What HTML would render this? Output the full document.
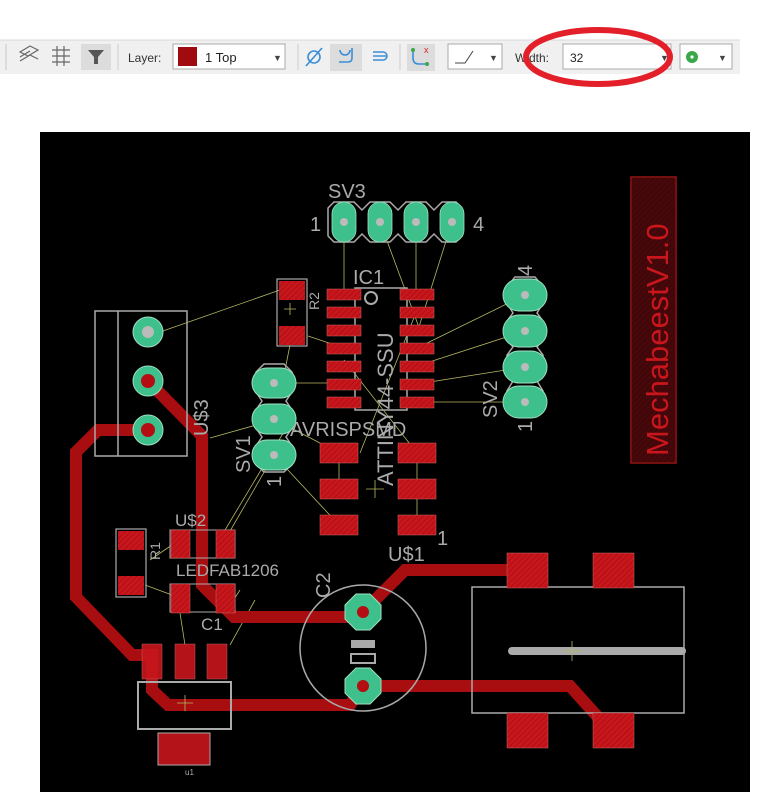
<!DOCTYPE html>
<html><head><meta charset="utf-8"><style>
html,body{margin:0;padding:0;background:#fff;}
body{width:768px;height:792px;overflow:hidden;font-family:"Liberation Sans",sans-serif;}
</style></head><body>
<svg width="768" height="792" viewBox="0 0 768 792" xmlns="http://www.w3.org/2000/svg" font-family="Liberation Sans, sans-serif">
<defs>
<pattern id="h" width="4" height="4" patternUnits="userSpaceOnUse" patternTransform="rotate(45)">
<rect width="4" height="4" fill="#c8161c"/><line x1="0" y1="0" x2="0" y2="4" stroke="#9a0c10" stroke-width="1.2"/>
</pattern>
</defs>
<rect width="768" height="792" fill="#fff"/>
<!-- toolbar -->
<rect x="0" y="40" width="740" height="34" fill="#f0f0f0"/>
<line x1="0" y1="40" x2="740" y2="40" stroke="#d8d8d8"/>
<line x1="6" y1="44" x2="6" y2="70" stroke="#c8c8c8"/>
<g stroke="#666" fill="none" stroke-width="1.2">
<path d="M20 52 l10 -6 l8 4 l-10 6 z M20 57 l10 -6 M20 61 l10 -6 l8 4"/>
<path d="M52 50 h18 M52 56 h18 M52 62 h18 M57 46 v20 M64 46 v20"/>
</g>
<rect x="81" y="44" width="30" height="26" fill="#dcdcdc"/>
<path d="M88 50 h16 l-6 7 v7 h-4 v-7 z" fill="#555"/>
<line x1="118" y1="44" x2="118" y2="70" stroke="#ccc"/>
<text x="128" y="62" font-size="12" fill="#333">Layer:</text>
<rect x="173" y="44" width="112" height="25" fill="#fff" stroke="#aaa"/>
<rect x="178" y="47" width="19" height="19" fill="#a00b10"/>
<text x="205" y="62" font-size="13" fill="#222">1 Top</text>
<text x="273" y="61" font-size="9" fill="#444">▼</text>
<line x1="298" y1="44" x2="298" y2="70" stroke="#ccc"/>
<g stroke="#3a8ed8" fill="none" stroke-width="1.6">
<circle cx="314" cy="57" r="6"/><line x1="306" y1="66" x2="322" y2="48"/>
</g>
<rect x="330" y="44" width="32" height="27" fill="#dcdcdc"/>
<path d="M340 50 a5 5 0 1 0 10 0 M352 48 v10 q0 4 -4 4 h-9" stroke="#3a8ed8" fill="none" stroke-width="1.6"/>
<path d="M373 52 h10 a4 4 0 0 1 0 8 h-10 M373 56 h14" stroke="#3a8ed8" fill="none" stroke-width="1.5"/>
<line x1="400" y1="44" x2="400" y2="70" stroke="#ccc"/>
<rect x="407" y="44" width="28" height="27" fill="#dcdcdc"/>
<path d="M413 50 v8 q0 6 6 6 h6" stroke="#3a8ed8" fill="none" stroke-width="1.6"/>
<circle cx="413" cy="50" r="2" fill="#3aa84a"/><circle cx="427" cy="64" r="2" fill="#3aa84a"/>
<text x="424" y="53" font-size="9" fill="#d22">x</text>
<rect x="448" y="44" width="54" height="25" fill="#fff" stroke="#aaa"/>
<path d="M455 63 h10 l8 -12" stroke="#444" fill="none"/>
<text x="489" y="61" font-size="9" fill="#444">▼</text>
<text x="515" y="62" font-size="12" fill="#333">Width:</text>
<rect x="563" y="44" width="108" height="25" fill="#fff" stroke="#aaa"/>
<text x="570" y="62" font-size="12" fill="#222">32</text>
<text x="660" y="61" font-size="9" fill="#444">▼</text>
<rect x="680" y="44" width="52" height="25" fill="#fff" stroke="#aaa"/>
<circle cx="692" cy="57" r="6" fill="#3aa84a"/><circle cx="692" cy="57" r="1.6" fill="#fff"/>
<text x="718" y="61" font-size="9" fill="#444">▼</text>
<ellipse cx="598" cy="57" rx="72" ry="27" fill="none" stroke="#e3202a" stroke-width="6"/>

<!-- board -->
<rect x="40" y="132" width="710" height="660" fill="#000"/>

<!-- air wires -->
<g stroke="#b8b860" stroke-width="0.8" fill="none">
<path d="M344 222 V294 M416 222 V294 M380 222 L420 330 M452 222 L418 330 M160 332 L280 290 M308 336 L344 348 M417 348 L525 295 M417 366 L525 331 M417 384 L525 367 M417 402 L525 402 M274 383 H344 M290 345 L285 370 M274 419 L339 453 M210 438 L274 420 M274 455 L339 525 M274 455 L222 545 M344 360 L417 453 M417 310 L360 453 M339 462 V489 M417 462 V525 M225 530 L285 430 M150 560 L172 545 M145 585 L172 595 M180 613 L185 645 M225 613 L240 590 M230 645 L255 600"/>
</g>

<!-- traces -->
<g stroke="#a80d10" stroke-width="12" fill="none" stroke-linejoin="miter">
<path d="M148 381 L202 436 V585 L234 617 H363"/>
<path d="M148 430 H98 L76 452 V597 L132 655 H152 V690 L168 705 H350 L363 686"/>
<path d="M363 612 L405 570 H527"/>
<path d="M363 686 H570 L605 725"/>
</g>

<!-- SV3 -->
<path d="M328 208 l6 -6 h20 l8 8 l8 -8 h20 l8 8 l8 -8 h20 l8 8 l8 -8 h14 l6 6 v28 l-6 6 h-14 l-8 -8 l-8 8 h-20 l-8 -8 l-8 8 h-20 l-8 -8 l-8 8 h-20 l-6 -6 z" fill="none" stroke="#aaa" stroke-width="1.5"/>
<g fill="#3dc08c" stroke="#9ee0c0" stroke-width="0.8">
<rect x="332" y="202" width="24" height="40" rx="12"/><rect x="368" y="202" width="24" height="40" rx="12"/><rect x="404" y="202" width="24" height="40" rx="12"/><rect x="440" y="202" width="24" height="40" rx="12"/>
</g>
<g fill="#bbb"><circle cx="344" cy="222" r="4"/><circle cx="380" cy="222" r="4"/><circle cx="416" cy="222" r="4"/><circle cx="452" cy="222" r="4"/></g>
<g fill="#aaa" font-size="20"><text x="328" y="198">SV3</text><text x="310" y="231">1</text><text x="473" y="231">4</text></g>

<!-- IC1 -->
<rect x="355" y="288" width="52" height="122" fill="none" stroke="#aaa" stroke-width="1.5"/>
<g fill="url(#h)" stroke="#c66" stroke-width="0.5">
<rect x="327" y="289" width="34" height="11"/><rect x="327" y="307" width="34" height="11"/><rect x="327" y="325" width="34" height="11"/><rect x="327" y="343" width="34" height="11"/><rect x="327" y="361" width="34" height="11"/><rect x="327" y="379" width="34" height="11"/><rect x="327" y="397" width="34" height="11"/>
<rect x="400" y="289" width="34" height="11"/><rect x="400" y="307" width="34" height="11"/><rect x="400" y="325" width="34" height="11"/><rect x="400" y="343" width="34" height="11"/><rect x="400" y="361" width="34" height="11"/><rect x="400" y="379" width="34" height="11"/><rect x="400" y="397" width="34" height="11"/>
</g>
<text x="353" y="284" font-size="20" fill="#aaa">IC1</text>
<text transform="translate(393,486) rotate(-90)" font-size="22" fill="#aaa">ATTINY44-SSU</text>
<circle cx="371" cy="298" r="6" fill="none" stroke="#aaa" stroke-width="2"/>

<!-- R2 -->
<rect x="277" y="279" width="30" height="67" fill="none" stroke="#aaa" stroke-width="1.2"/>
<rect x="279" y="281" width="26" height="19" fill="url(#h)"/><rect x="279" y="326" width="26" height="19" fill="url(#h)"/>
<text transform="translate(319,310) rotate(-90)" font-size="14" fill="#aaa">R2</text>

<!-- U$3 -->
<rect x="95" y="311" width="92" height="145" fill="none" stroke="#aaa" stroke-width="1.5"/>
<line x1="118" y1="311" x2="118" y2="456" stroke="#aaa" stroke-width="1.5"/>
<g fill="#3dc08c" stroke="#9ee0c0"><circle cx="148" cy="332" r="15"/><circle cx="148" cy="381" r="15"/><circle cx="148" cy="430" r="15"/></g>
<circle cx="148" cy="332" r="6" fill="#bbb"/><circle cx="148" cy="381" r="7" fill="#b40d12"/><circle cx="148" cy="430" r="7" fill="#b40d12"/>
<text transform="translate(208,436) rotate(-90)" font-size="20" fill="#aaa">U$3</text>

<!-- SV1 -->
<path d="M264 364 h20 l8 8 v20 l-6 9 l6 9 v18 l-6 9 l6 9 v18 l-8 8 h-20 l-8 -8 v-18 l6 -9 l-6 -9 v-18 l6 -9 l-6 -9 v-20 z" fill="none" stroke="#aaa" stroke-width="1.5"/>
<g fill="#3dc08c" stroke="#9ee0c0"><rect x="252" y="368" width="44" height="30" rx="15"/><rect x="252" y="404" width="44" height="30" rx="15"/><rect x="252" y="440" width="44" height="30" rx="15"/></g>
<g fill="#bbb"><circle cx="274" cy="383" r="4"/><circle cx="274" cy="419" r="4"/><circle cx="274" cy="455" r="4"/></g>
<text transform="translate(250,473) rotate(-90)" font-size="20" fill="#aaa">SV1</text>
<text transform="translate(281,487) rotate(-90)" font-size="20" fill="#aaa">1</text>
<text x="290" y="436" font-size="20" fill="#aaa">AVRISPSMD</text>

<!-- AVRISP pads -->
<g fill="url(#h)" stroke="#c66" stroke-width="0.5">
<rect x="320" y="443" width="38" height="20"/><rect x="320" y="479" width="38" height="20"/><rect x="320" y="515" width="38" height="20"/>
<rect x="398" y="443" width="38" height="20"/><rect x="398" y="479" width="38" height="20"/><rect x="398" y="515" width="38" height="20"/>
</g>
<text x="437" y="545" font-size="20" fill="#aaa">1</text>
<text x="388" y="561" font-size="20" fill="#aaa">U$1</text>

<!-- SV2 -->
<path d="M515 277 h20 l8 10 v16 l-6 10 l6 8 v18 l-6 8 l6 8 v18 l-6 8 l6 10 v14 l-8 8 h-20 l-8 -8 v-14 l6 -10 l-6 -8 v-18 l6 -8 l-6 -8 v-18 l6 -8 l-6 -10 v-16 z" fill="none" stroke="#aaa" stroke-width="1.5"/>
<g fill="#3dc08c" stroke="#9ee0c0"><rect x="503" y="279" width="44" height="32" rx="16"/><rect x="503" y="315" width="44" height="32" rx="16"/><rect x="503" y="351" width="44" height="32" rx="16"/><rect x="503" y="386" width="44" height="32" rx="16"/></g>
<g fill="#bbb"><circle cx="525" cy="295" r="4"/><circle cx="525" cy="331" r="4"/><circle cx="525" cy="367" r="4"/><circle cx="525" cy="402" r="4"/></g>
<text transform="translate(497,418) rotate(-90)" font-size="20" fill="#aaa">SV2</text>
<text transform="translate(532,432) rotate(-90)" font-size="20" fill="#aaa">1</text>
<text transform="translate(532,276) rotate(-90)" font-size="20" fill="#aaa">4</text>

<!-- label block -->
<rect x="631" y="177" width="45" height="286" fill="none" stroke="#c0191c" stroke-width="1.2"/>
<rect x="632" y="178" width="43" height="284" fill="url(#h)" opacity="0.35"/>
<text transform="translate(668,456) rotate(-90)" font-size="31" fill="#c8161c">MechabeestV1.0</text>

<!-- R1 -->
<rect x="116" y="529" width="30" height="68" fill="none" stroke="#aaa" stroke-width="1.2"/>
<rect x="118" y="531" width="26" height="19" fill="url(#h)"/><rect x="118" y="576" width="26" height="19" fill="url(#h)"/>
<text transform="translate(160,560) rotate(-90)" font-size="14" fill="#aaa">R1</text>

<!-- U$2 / C1 -->
<rect x="170" y="530" width="65" height="28" fill="none" stroke="#aaa"/>
<rect x="170" y="584" width="65" height="28" fill="none" stroke="#aaa"/>
<g fill="url(#h)" stroke="#c66" stroke-width="0.5"><rect x="171" y="530" width="19" height="28"/><rect x="216" y="530" width="19" height="28"/><rect x="171" y="584" width="19" height="29"/><rect x="216" y="584" width="19" height="29"/></g>
<text x="175" y="526" font-size="17" fill="#aaa">U$2</text>
<text x="176" y="576" font-size="17" fill="#aaa">LEDFAB1206</text>
<text x="201" y="630" font-size="17" fill="#aaa">C1</text>

<!-- regulator -->
<rect x="138" y="682" width="93" height="47" fill="none" stroke="#aaa" stroke-width="2"/>
<g fill="#c8161c" opacity="0.9" stroke="#c66" stroke-width="0.5"><rect x="142" y="644" width="20" height="35"/><rect x="175" y="644" width="20" height="35"/><rect x="207" y="644" width="20" height="35"/><rect x="158" y="733" width="52" height="32"/></g>
<rect x="158" y="733" width="52" height="32" fill="none" stroke="#aaa"/>
<text x="185" y="775" font-size="8" fill="#aaa">u1</text>

<!-- C2 -->
<circle cx="363" cy="648" r="63" fill="none" stroke="#aaa" stroke-width="1.5"/>
<rect x="351" y="640" width="24" height="8" fill="#aaa"/><rect x="351" y="654" width="24" height="9" fill="none" stroke="#aaa" stroke-width="2"/>
<g fill="#3dc08c" stroke="#9ee0c0"><polygon points="356,594 370,594 381,605 381,619 370,630 356,630 345,619 345,605"/><polygon points="356,668 370,668 381,679 381,693 370,704 356,704 345,693 345,679"/></g>
<circle cx="363" cy="612" r="6" fill="#b40d12"/><circle cx="363" cy="686" r="6" fill="#b40d12"/>
<text transform="translate(330,598) rotate(-90)" font-size="20" fill="#aaa">C2</text>

<!-- switch -->
<rect x="472" y="587" width="212" height="126" fill="none" stroke="#aaa" stroke-width="1.5"/>
<line x1="512" y1="651" x2="682" y2="651" stroke="#aaa" stroke-width="8" stroke-linecap="round"/>
<g fill="url(#h)" stroke="#c66" stroke-width="0.5"><rect x="507" y="553" width="41" height="35"/><rect x="593" y="553" width="41" height="35"/><rect x="507" y="713" width="41" height="35"/><rect x="593" y="713" width="41" height="35"/></g>

<!-- origin crosses -->
<g stroke="#b8b860" stroke-width="0.8"><path d="M572 641 v20 M562 651 h20 M185 695 v16 M177 703 h16 M375 480 v18 M366 489 h18 M290 303 v12 M284 309 h12"/></g>
</svg>
</body></html>
